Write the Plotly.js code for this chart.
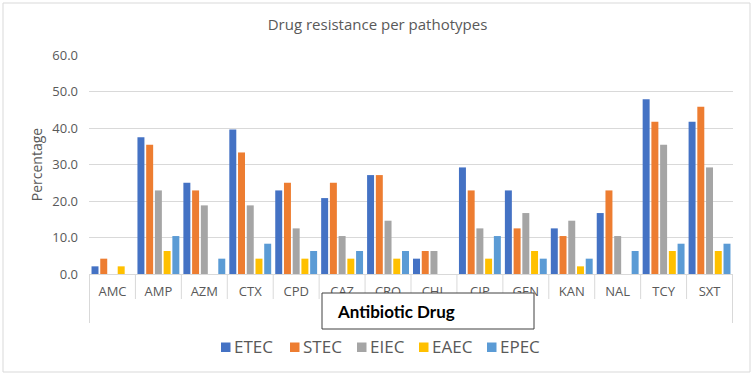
<!DOCTYPE html>
<html>
<head>
<meta charset="utf-8">
<script src="https://cdn.plot.ly/plotly-3.0.1.min.js"></script>
<style>
  html, body { margin: 0; padding: 0; background: #ffffff; }
  #chart { width: 755px; height: 376px; }
</style>
</head>
<body>
<div id="chart"></div>
<script>
// Antibiotic codes on the category axis
const categories = ["AMC", "AMP", "AZM", "CTX", "CPD", "CAZ", "CRO", "CHL", "CIP", "GEN", "KAN", "NAL", "TCY", "SXT"];

// Resistance percentage for each pathotype
const ETEC = [2.1, 37.5, 25.0, 39.6, 22.9, 20.8, 27.1, 4.2, 29.2, 22.9, 12.5, 16.7, 47.9, 41.7];
const STEC = [4.2, 35.4, 22.9, 33.3, 25.0, 25.0, 27.1, 6.3, 22.9, 12.5, 10.4, 22.9, 41.7, 45.8];
const EIEC = [0, 22.9, 18.8, 18.8, 12.5, 10.4, 14.6, 6.3, 12.5, 16.7, 14.6, 10.4, 35.4, 29.2];
const EAEC = [2.1, 6.3, 0, 4.2, 4.2, 4.2, 4.2, 0, 4.2, 6.3, 2.1, 0, 6.3, 6.3];
const EPEC = [0, 10.4, 4.2, 8.3, 6.3, 6.3, 6.3, 0, 10.4, 4.2, 4.2, 6.3, 8.3, 8.3];

const seriesNames = ["ETEC", "STEC", "EIEC", "EAEC", "EPEC"];
const seriesValues = [ETEC, STEC, EIEC, EAEC, EPEC];
const seriesColors = ["#4472C4", "#ED7D31", "#A5A5A5", "#FFC000", "#5B9BD5"];

const yTicks = [0, 10, 20, 30, 40, 50, 60];

// Page geometry (pixels)
const W = 755, H = 376;
const plotL = 89, plotR = 733, plotT = 55, plotB = 274;
const px = x => (x - plotL) / (plotR - plotL);
const py = y => (plotB - y) / (plotB - plotT);

const textColor = "#595959";
const lineColor = "#D9D9D9";
const font = "Open Sans, Noto Sans, sans-serif";

const traces = seriesNames.map((name, i) => ({
  type: "bar",
  name: name,
  x: categories,
  y: seriesValues[i],
  marker: { color: seriesColors[i], line: { width: 0 } },
  hoverinfo: "x+y+name"
}));

const shapes = [];
// chart frame
shapes.push({
  type: "rect", xref: "paper", yref: "paper",
  x0: px(3), x1: px(750), y0: py(372), y1: py(3),
  line: { color: lineColor, width: 1 }, fillcolor: "rgba(0,0,0,0)", layer: "below"
});
// category separators below the axis
for (let i = 0; i <= categories.length; i++) {
  const outer = (i === 0 || i === categories.length);
  shapes.push({
    type: "line", xref: "x", yref: "paper",
    x0: i - 0.5, x1: i - 0.5,
    y0: 0, y1: outer ? py(323) : py(299),
    line: { color: lineColor, width: 1 }
  });
}
// boxed axis caption
shapes.push({
  type: "rect", xref: "paper", yref: "paper",
  x0: px(322), x1: px(534), y0: py(329), y1: py(293),
  line: { color: "#404040", width: 1 }, fillcolor: "#ffffff"
});

const annotations = [];
annotations.push({
  xref: "paper", yref: "paper",
  x: px(335), y: py(311), xanchor: "left", yanchor: "middle",
  text: "<b>Antibiotic Drug</b>", showarrow: false,
  font: { family: "Lato, Liberation Sans, sans-serif", size: 17, color: "#000000" }
});

// legend row: colour key squares followed by series names
const legendX = [221, 290, 357, 419, 487];
seriesNames.forEach((name, i) => {
  shapes.push({
    type: "rect", xref: "paper", yref: "paper",
    x0: px(legendX[i]), x1: px(legendX[i] + 9.5),
    y0: py(352), y1: py(342.5),
    line: { width: 0 }, fillcolor: seriesColors[i]
  });
  annotations.push({
    xref: "paper", yref: "paper",
    x: px(legendX[i] + 11), y: py(346.5), xanchor: "left", yanchor: "middle",
    text: name, showarrow: false,
    font: { family: font, size: 17, color: textColor }
  });
});

const layout = {
  width: W, height: H,
  margin: { l: plotL, r: W - plotR, t: plotT, b: H - plotB, pad: 0 },
  paper_bgcolor: "#ffffff",
  plot_bgcolor: "#ffffff",
  showlegend: false,
  barmode: "group",
  bargap: 0.05,
  bargroupgap: 0.2,
  title: {
    text: "Drug resistance per pathotypes",
    x: 0.5, xref: "container", xanchor: "center",
    y: 1 - 25 / H, yref: "container", yanchor: "middle",
    font: { family: font, size: 15, color: textColor }
  },
  xaxis: {
    type: "category",
    categoryarray: categories,
    showline: true, linecolor: lineColor, linewidth: 1,
    showgrid: false, ticks: "",
    ticklabelstandoff: 5,
    tickfont: { family: font, size: 13, color: textColor },
    fixedrange: true
  },
  yaxis: {
    range: [0, 60],
    tickvals: yTicks,
    tickformat: ".1f",
    showgrid: true, gridcolor: lineColor, gridwidth: 1,
    zeroline: false, showline: false, ticks: "",
    ticklabelstandoff: 10,
    tickfont: { family: font, size: 13, color: textColor },
    title: { text: "Percentage", standoff: 6, font: { family: font, size: 14, color: textColor } },
    fixedrange: true
  },
  shapes: shapes,
  annotations: annotations
};

Plotly.newPlot("chart", traces, layout, { displayModeBar: false, staticPlot: true });
</script>
</body>
</html>
